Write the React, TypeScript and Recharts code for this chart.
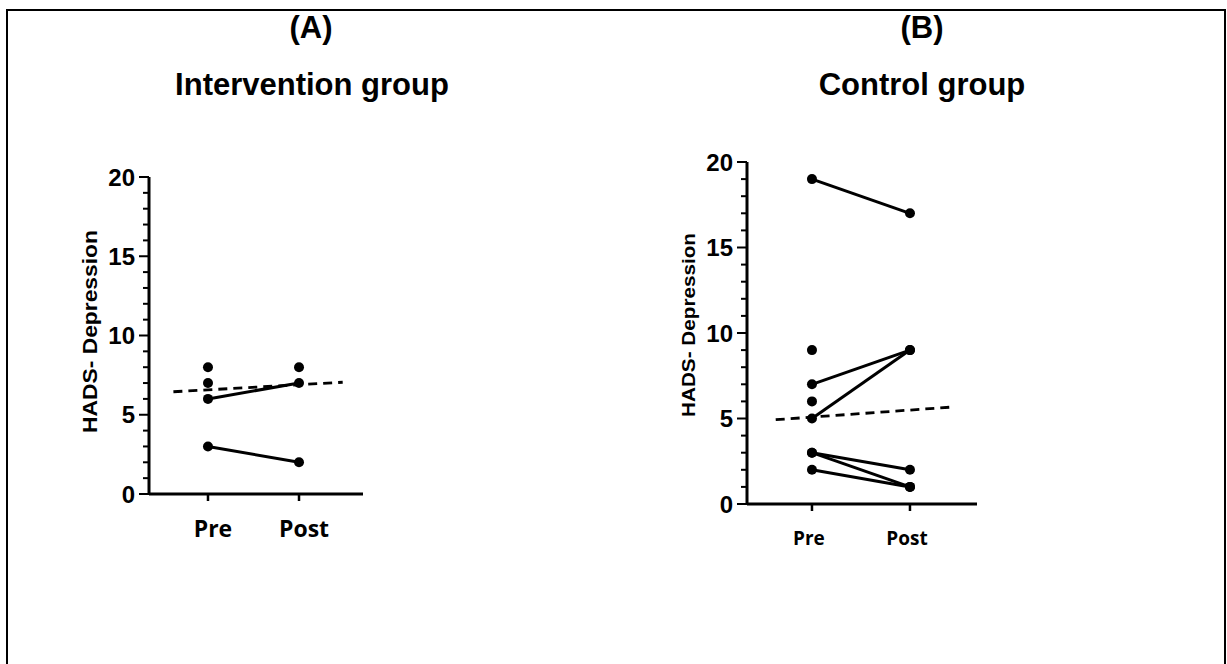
import React from "react";
import { ComposedChart, Line, XAxis, YAxis, Label } from "recharts";

// ---- Data ----
const timepoints = ["Pre", "Post"];
const yTicks = [0, 1, 2, 3, 4, 5, 6, 7, 8, 9, 10, 11, 12, 13, 14, 15, 16, 17, 18, 19, 20];

// Intervention group: each index is one participant (null = not measured)
const intPre: (number | null)[] = [8, 7, 6, 3, null];
const intPost: (number | null)[] = [null, null, 7, 2, 8];
const intTrendX = [0.62, 2.48];
const intTrendY = [6.45, 7.05];

// Control group
const ctrlPre: (number | null)[] = [19, 7, 5, 3, 3, 2, 9, 6];
const ctrlPost: (number | null)[] = [17, 9, 9, 2, 1, 1, null, null];
const ctrlTrendX = [0.63, 2.43];
const ctrlTrendY = [4.93, 5.67];

const ARIAL = "'Liberation Sans', Arial, Helvetica, sans-serif";
const OPEN = "'Open Sans', 'Noto Sans', sans-serif";

type PanelProps = {
  pre: (number | null)[];
  post: (number | null)[];
  trendX: number[];
  trendY: number[];
  left: number;
  width: number;
  height: number;
  margin: { top: number; right: number; bottom: number; left: number };
  domainX: [number, number];
  xFont: number;
  xDx: number;
  xBaseline: number;
  yFont: number;
  labelFont: number;
  labelLen: number;
  labelDx: number;
  labelDy: number;
};

function Panel(p: PanelProps) {
  const subjects = p.pre.map((v, i) => {
    const pts: { x: number; y: number }[] = [];
    if (v !== null) pts.push({ x: 1, y: v });
    const w = p.post[i];
    if (w !== null) pts.push({ x: 2, y: w });
    return pts;
  });
  const trend = p.trendX.map((x, i) => ({ x, y: p.trendY[i] }));

  const YTick = (props: any) => {
    const { x, y, payload } = props;
    const v = payload.value as number;
    const major = v % 5 === 0;
    const len = major ? 10 : 6;
    return (
      <g>
        <line x1={x - len} x2={x} y1={y} y2={y} stroke="#000" strokeWidth={2} />
        {major && (
          <text
            x={x - len - 4}
            y={y}
            dy="0.36em"
            textAnchor="end"
            fontFamily={ARIAL}
            fontWeight="bold"
            fontSize={p.yFont}
            fill="#000"
          >
            {v}
          </text>
        )}
      </g>
    );
  };

  const XTick = (props: any) => {
    const { x, y, payload } = props;
    const idx = (payload.value as number) - 1;
    return (
      <text
        x={x + p.xDx}
        y={y + p.xBaseline}
        textAnchor="middle"
        fontFamily={OPEN}
        fontWeight="bold"
        fontSize={p.xFont}
        fill="#000"
      >
        {timepoints[idx]}
      </text>
    );
  };

  return (
    <div style={{ position: "absolute", left: p.left, top: 0 }}>
      <ComposedChart width={p.width} height={p.height} margin={p.margin}>
        <XAxis
          type="number"
          dataKey="x"
          domain={p.domainX}
          allowDataOverflow
          ticks={[1, 2]}
          interval={0}
          height={50}
          tickSize={7}
          tickMargin={0}
          tickLine={{ stroke: "#000", strokeWidth: 2.5 }}
          axisLine={{ stroke: "#000", strokeWidth: 3 }}
          tick={<XTick />}
        />
        <YAxis
          type="number"
          domain={[0, 20]}
          ticks={yTicks}
          interval={0}
          width={60}
          tickSize={0}
          tickMargin={0}
          tickLine={false}
          tickFormatter={(v: number) => (v % 5 === 0 ? String(v) : "")}
          axisLine={{ stroke: "#000", strokeWidth: 3 }}
          tick={<YTick />}
        >
          <Label
            content={(lp: any) => {
              const vb = lp.viewBox || {};
              const tx = vb.x + p.labelDx;
              const ty = vb.y + vb.height / 2 + p.labelDy;
              return (
                <text
                  x={tx}
                  y={ty}
                  transform={`rotate(-90 ${tx} ${ty})`}
                  textAnchor="middle"
                  dominantBaseline="central"
                  fontFamily={ARIAL}
                  fontWeight="bold"
                  fontSize={p.labelFont}
                  textLength={p.labelLen}
                  lengthAdjust="spacingAndGlyphs"
                  fill="#000"
                >
                  HADS- Depression
                </text>
              );
            }}
          />
        </YAxis>
        {subjects.map((pts, i) => (
          <Line
            key={i}
            data={pts}
            dataKey="y"
            type="linear"
            stroke="#000"
            strokeWidth={3}
            dot={{ r: 5, fill: "#000", stroke: "#000", strokeWidth: 0 }}
            activeDot={false}
            isAnimationActive={false}
          />
        ))}
        <Line
          data={trend}
          dataKey="y"
          type="linear"
          stroke="#000"
          strokeWidth={2.8}
          strokeDasharray="9 6"
          dot={false}
          activeDot={false}
          isAnimationActive={false}
        />
      </ComposedChart>
    </div>
  );
}

const titleStyle = (cx: number, top: number, size: number): React.CSSProperties => ({
  position: "absolute",
  left: cx - 250,
  width: 500,
  top,
  textAlign: "center",
  fontFamily: ARIAL,
  fontWeight: "bold",
  fontSize: size,
  lineHeight: `${size}px`,
  color: "#000",
  whiteSpace: "nowrap",
});

export default function App() {
  return (
    <div
      style={{
        position: "absolute",
        left: 0,
        top: 0,
        width: 1227,
        height: 664,
        overflow: "hidden",
        background: "#fff",
      }}
    >
      <div
        style={{
          position: "absolute",
          left: 6,
          top: 9,
          width: 1220,
          height: 720,
          border: "2px solid #000",
          boxSizing: "border-box",
        }}
      />
      <div style={titleStyle(311, 12, 31)}>(A)</div>
      <div style={titleStyle(312, 69, 31)}>Intervention group</div>
      <div style={titleStyle(922, 12, 31)}>(B)</div>
      <div style={titleStyle(922, 69, 31)}>Control group</div>

      <Panel
        pre={intPre}
        post={intPost}
        trendX={intTrendX}
        trendY={intTrendY}
        left={0}
        width={420}
        height={580}
        margin={{ top: 177, right: 57, bottom: 36, left: 89 }}
        domainX={[0.352, 2.703]}
        xFont={23}
        xDx={5}
        xBaseline={36}
        yFont={24}
        labelFont={21}
        labelLen={203}
        labelDx={0}
        labelDy={-4}
      />
      <Panel
        pre={ctrlPre}
        post={ctrlPost}
        trendX={ctrlTrendX}
        trendY={ctrlTrendY}
        left={600}
        width={420}
        height={600}
        margin={{ top: 162, right: 43, bottom: 46, left: 87 }}
        domainX={[0.337, 2.684]}
        xFont={19}
        xDx={-3}
        xBaseline={34}
        yFont={24}
        labelFont={18}
        labelLen={184}
        labelDx={2}
        labelDy={-8}
      />
    </div>
  );
}
